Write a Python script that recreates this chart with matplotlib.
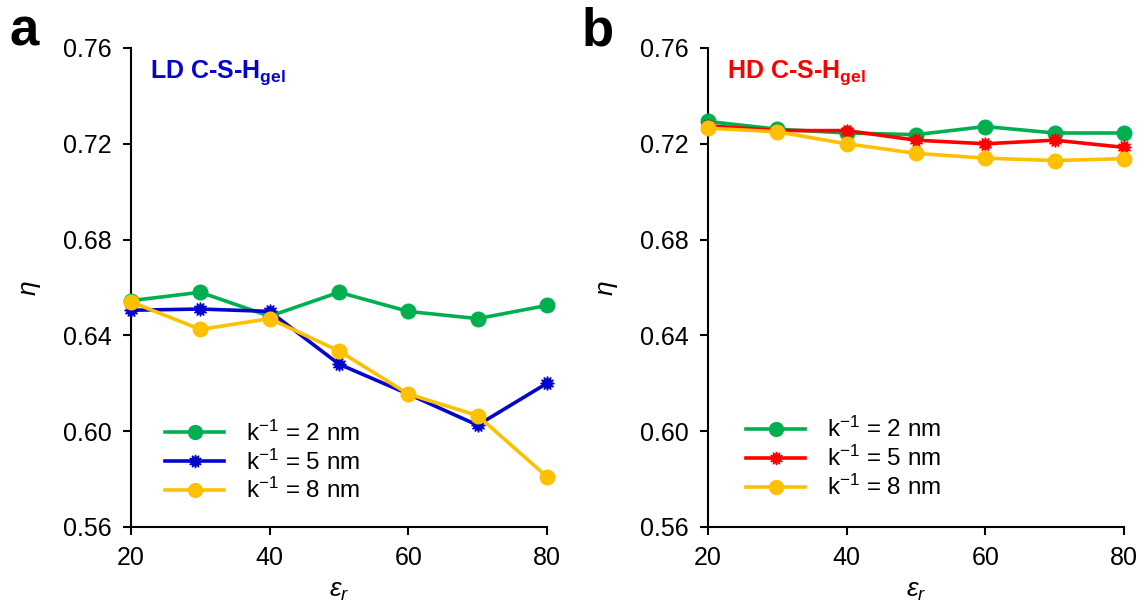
import matplotlib
matplotlib.use('Agg')
import matplotlib.pyplot as plt

plt.rcParams['font.family'] = ['Liberation Sans', 'DejaVu Sans']
plt.rcParams['mathtext.fontset'] = 'custom'
plt.rcParams['mathtext.rm'] = 'Liberation Sans'
plt.rcParams['mathtext.it'] = 'Liberation Sans:italic'
plt.rcParams['mathtext.bf'] = 'Liberation Sans:bold'

# dielectric constant
eps = [20, 30, 40, 50, 60, 70, 80]

# LD C-S-H gel
ld_k2 = [0.6545, 0.658, 0.648, 0.658, 0.650, 0.647, 0.6525]
ld_k5 = [0.6505, 0.651, 0.650, 0.628, 0.6155, 0.6025, 0.620]
ld_k8 = [0.654, 0.6425, 0.647, 0.6335, 0.6155, 0.6065, 0.581]

# HD C-S-H gel
hd_k2 = [0.7293, 0.7261, 0.7245, 0.7238, 0.7272, 0.7245, 0.7245]
hd_k5 = [0.7275, 0.7255, 0.7255, 0.7215, 0.7200, 0.7215, 0.7185]
hd_k8 = [0.7265, 0.7250, 0.7200, 0.7160, 0.7140, 0.7130, 0.7138]

labels = [r'k$^{-1}$ = 2 nm', r'k$^{-1}$ = 5 nm', r'k$^{-1}$ = 8 nm']
green = '#00B050'
blue = '#0505CC'
red = '#FF0000'
yellow = '#FFC000'
star = (12, 1, 0)

fig = plt.figure(figsize=(11.45, 6.11), dpi=100)
ax_a = fig.add_axes([0.1144, 0.1375, 0.3633, 0.784])
ax_b = fig.add_axes([0.6183, 0.1375, 0.3633, 0.784])


def style_axis(ax):
    ax.set_xlim(20, 80)
    ax.set_ylim(0.56, 0.76)
    ax.set_xticks([20, 40, 60, 80])
    ax.set_yticks([0.56, 0.60, 0.64, 0.68, 0.72, 0.76])
    ax.set_yticklabels(['0.56', '0.60', '0.64', '0.68', '0.72', '0.76'])
    for s in ['top', 'right']:
        ax.spines[s].set_visible(False)
    for s in ['left', 'bottom']:
        ax.spines[s].set_linewidth(1.5)
    ax.tick_params(direction='out', length=6, width=1.5, labelsize=18, pad=8)
    ax.set_xlabel(r'$\varepsilon_r$', fontsize=19, labelpad=6)
    ax.set_ylabel('η', fontsize=19, style='italic', labelpad=16)


def draw(ax, s1, s2, s3, c2, title, tcol, leg_xy):
    ax.plot(eps, s1, color=green, lw=2.6, marker='o', ms=10.5, label=labels[0], clip_on=False, zorder=3)
    ax.plot(eps, s2, color=c2, lw=2.6, marker=star, ms=10, label=labels[1], clip_on=False, zorder=3)
    ax.plot(eps, s3, color=yellow, lw=2.6, marker='o', ms=10.5, label=labels[2], clip_on=False, zorder=4)
    style_axis(ax)
    ax.text(0.045, 0.948, title, transform=ax.transAxes, color=tcol,
            fontsize=18, fontweight='bold', va='center')
    ax.legend(loc='upper left', bbox_to_anchor=leg_xy, frameon=False, fontsize=17.5,
              handlelength=2.4, handletextpad=0.9, labelspacing=0.15, markerscale=0.95)


draw(ax_a, ld_k2, ld_k5, ld_k8, blue, r'LD C-S-H$_{\mathbf{gel}}$', blue, (0.03, 0.268))
draw(ax_b, hd_k2, hd_k5, hd_k8, red, r'HD C-S-H$_{\mathbf{gel}}$', red, (0.04, 0.275))

fig.text(0.008, 0.925, 'a', fontsize=38, fontweight='bold')
fig.text(0.508, 0.925, 'b', fontsize=38, fontweight='bold')

fig.savefig('out.png', dpi=100)
